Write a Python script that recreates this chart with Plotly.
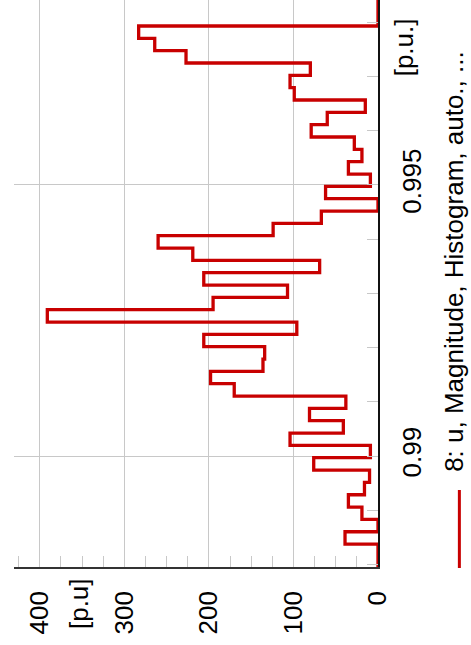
import plotly.graph_objects as go

# Histogram of u magnitude (counts per bin, listed from the lowest bin upward)
counts = [0, 0,
          39, 0, 19, 35, 16, 10, 76, 9, 104, 41, 81, 38, 170, 198, 136, 134,
          206, 96, 391, 195, 107, 206, 69, 219, 260, 124, 67, 0, 62, 9, 35, 19,
          28, 79, 60, 15, 99, 104, 80, 227, 264, 283,
          0, 0, 0]
bin_start = 0.98792   # lower edge of the first bin
bin_width = 0.00022757

count_ticks = [0, 100, 200, 300, 400]
value_ticks = [0.99, 0.995]
legend_label = "8: u, Magnitude, Histogram, auto., ..."
x_unit = "[p.u]"
y_unit = "[p.u.]"

edges = [bin_start + i * bin_width for i in range(len(counts) + 1)]
xs = counts + [counts[-1]]

FONT = "Liberation Sans, Arial, sans-serif"
RED = "rgb(200,0,0)"
GRID = "#c8c8c8"

fig = go.Figure()
fig.add_trace(go.Scatter(
    x=xs, y=edges, mode="lines", line=dict(color=RED, width=3.3, shape="vh"),
    showlegend=False, hoverinfo="skip"))

W, H = 471, 645
L, R, T, B = 14, 93.3, 0, 78
pw, ph = W - L - R, H - T - B

def px(xp):
    return (xp - L) / pw

def py(yp):
    return (H - B - yp) / ph

fig.update_layout(
    width=W, height=H,
    margin=dict(l=L, r=R, t=T, b=B, pad=0),
    paper_bgcolor="white", plot_bgcolor="white",
    font=dict(family=FONT, size=26, color="black"),
    xaxis=dict(range=[430.4, 0], tickvals=count_ticks, tickangle=-90,
               showgrid=True, gridcolor=GRID, gridwidth=1,
               showline=True, linecolor="#333333", linewidth=1.5,
               ticks="inside", ticklen=11, tickcolor=GRID,
               minor=dict(dtick=25, tick0=0, ticks="inside", ticklen=11,
                          tickcolor=GRID, showgrid=False),
               zeroline=False, automargin=False, ticklabelstandoff=12),
    yaxis=dict(range=[0.987952, 0.998413], side="right", tickvals=value_ticks,
               ticktext=[str(v) for v in value_ticks], tickangle=-90,
               showgrid=True, gridcolor=GRID, gridwidth=1,
               showline=True, linecolor="#111111", linewidth=1.5,
               ticks="inside", ticklen=11, tickcolor=GRID,
               minor=dict(dtick=0.001, tick0=0.99, ticks="inside", ticklen=11,
                          tickcolor=GRID, showgrid=False),
               zeroline=False, automargin=False, ticklabelstandoff=10),
)

fig.add_annotation(text=y_unit, xref="paper", yref="paper", x=px(404), y=py(47),
                   xanchor="center", yanchor="middle", textangle=-90, showarrow=False)
fig.add_annotation(text=x_unit, xref="paper", yref="paper", x=px(79), y=py(604),
                   xanchor="center", yanchor="middle", textangle=-90, showarrow=False)
fig.add_annotation(text=legend_label, xref="paper", yref="paper", x=px(453), y=py(261.5),
                   xanchor="center", yanchor="middle", textangle=-90, showarrow=False)
fig.add_shape(type="line", xref="paper", yref="paper", x0=px(459), x1=px(459),
              y0=py(490), y1=py(568), line=dict(color=RED, width=3))

fig.write_html("out.html", config={"displayModeBar": False},
               post_script="document.body.style.margin='0';document.body.style.overflow='hidden';")
